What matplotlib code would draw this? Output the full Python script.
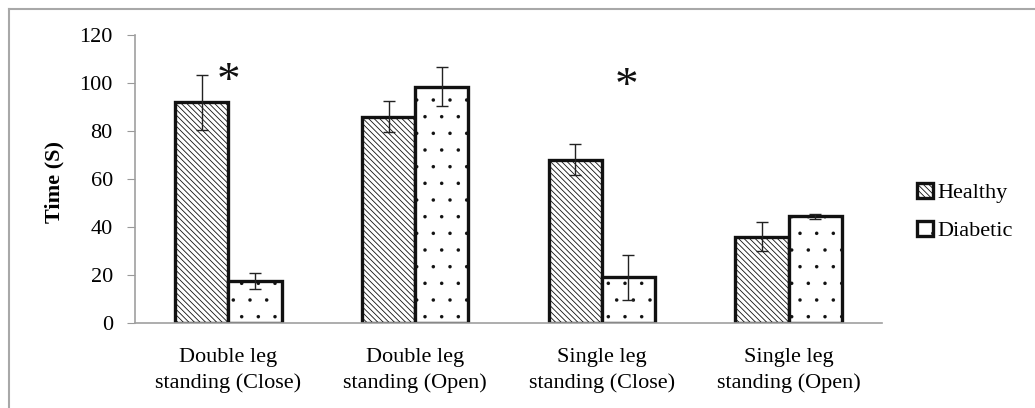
import matplotlib.pyplot as plt
import numpy as np
from matplotlib.lines import Line2D

# data
categories = ["Double leg\nstanding (Close)", "Double leg\nstanding (Open)",
              "Single leg\nstanding (Close)", "Single leg\nstanding (Open)"]
healthy = [92, 86, 68, 36]
healthy_err = [11.5, 6.5, 6.5, 6]
diabetic = [17.5, 98.5, 19, 44.5]
diabetic_err = [3.5, 8, 9.5, 1]
star_groups = [0, 2]
star_offsets = [0.0, 0.13]
star_heights = [100, 98]

plt.rcParams['font.family'] = ['Liberation Serif', 'DejaVu Serif']

fig = plt.figure(figsize=(10.35, 4.08), dpi=100)
ax = fig.add_axes([135 / 1035, 1 - 323 / 408, (882 - 135) / 1035, (323 - 35) / 408])

x = np.arange(len(categories))
w = 0.285
plt.rcParams['hatch.linewidth'] = 0.6
ax.bar(x - w / 2, healthy, w, color='white', edgecolor='#111111', linewidth=2.4,
       hatch='\\\\\\\\\\\\', label='Healthy', zorder=2)
plt.rcParams['hatch.linewidth'] = 0.1
ax.bar(x + w / 2, diabetic, w, color='white', edgecolor='#111111', linewidth=2.4,
       hatch='.', label='Diabetic', zorder=2)
ax.errorbar(x - w / 2, healthy, yerr=healthy_err, fmt='none', ecolor='#222222',
            elinewidth=1, capsize=4.5, capthick=1, zorder=3)
ax.errorbar(x + w / 2, diabetic, yerr=diabetic_err, fmt='none', ecolor='#222222',
            elinewidth=1, capsize=4.5, capthick=1, zorder=3)

for g, off, h in zip(star_groups, star_offsets, star_heights):
    ax.text(g + off, h, '*', ha='center', va='center', fontsize=34, color='#111111')

ax.set_xlim(-0.5, len(categories) - 0.5)
ax.set_ylim(0, 120)
ax.set_yticks(np.arange(0, 121, 20))
ax.set_xticks(x)
ax.set_xticklabels(categories, fontsize=16, linespacing=1.4)
ax.tick_params(axis='x', length=0, pad=18)
ax.tick_params(axis='y', labelsize=16, length=6, color='#999999', pad=10)

for s in ['top', 'right']:
    ax.spines[s].set_visible(False)
for s in ['left', 'bottom']:
    ax.spines[s].set_color('#a0a0a0')
    ax.spines[s].set_linewidth(1.2)

ax.set_ylabel('Time (S)', fontsize=16, fontweight='bold')
ax.yaxis.set_label_coords(-0.095, 0.49)

plt.rcParams['hatch.linewidth'] = 0.6
ax.legend(loc='center left', bbox_to_anchor=(917 / 1035, 1 - 212 / 408),
          bbox_transform=fig.transFigure, frameon=False, fontsize=16,
          handlelength=0.7, handleheight=0.7, handletextpad=0.2,
          labelspacing=0.8, borderpad=0, borderaxespad=0)

# outer frame (cropped on right and bottom)
fig.add_artist(Line2D([9 / 1035, 9 / 1035], [0, 1 - 9 / 408], transform=fig.transFigure,
                      color='#a8a8a8', linewidth=1.5))
fig.add_artist(Line2D([9 / 1035, 1], [1 - 9 / 408, 1 - 9 / 408], transform=fig.transFigure,
                      color='#a8a8a8', linewidth=1.5))

fig.savefig('out.png', dpi=100)
